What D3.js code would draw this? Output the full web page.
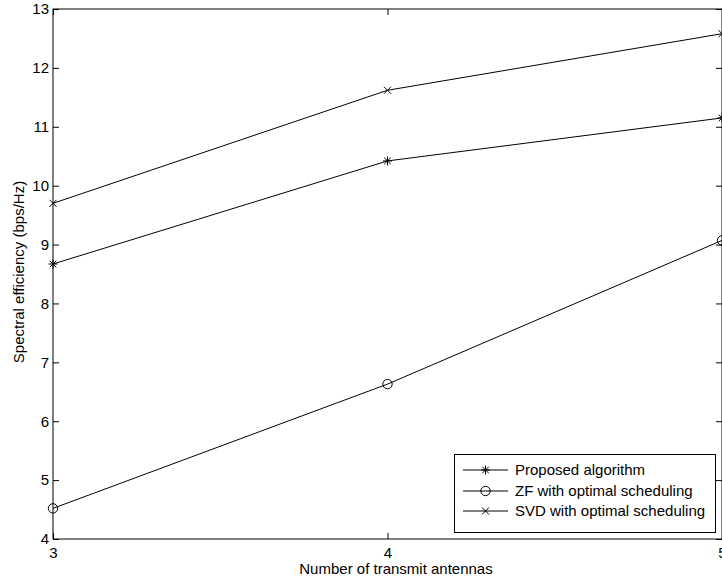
<!DOCTYPE html>
<html><head><meta charset="utf-8">
<script src="https://cdn.jsdelivr.net/npm/d3@7"></script>
<style>html,body{margin:0;padding:0;background:#fff;overflow:hidden}svg{display:block}text{font-family:Arial,"Liberation Sans",Helvetica,sans-serif;fill:#000}</style>
</head><body>
<script>
const antennas = [3, 4, 5];
const proposed = [8.67, 10.42, 11.15];
const zfOptimal = [4.52, 6.63, 9.07];
const svdOptimal = [9.70, 11.62, 12.58];
const seriesNames = ["Proposed algorithm", "ZF with optimal scheduling", "SVD with optimal scheduling"];
const yTicks = [4, 5, 6, 7, 8, 9, 10, 11, 12, 13];
const xTicks = [3, 4, 5];
const xLabel = "Number of transmit antennas";
const yLabel = "Spectral efficiency (bps/Hz)";

const W = 722, H = 581;
const L = 53, R = 722, T = 9, B = 539;
const svg = d3.select("body").append("svg").attr("width", W).attr("height", H);

const x = d3.scaleLinear().domain([3, 5]).range([L, R]);
const y = d3.scaleLinear().domain([4, 13]).range([B, T]);

// axes box
const tick = 6;
svg.append("g").attr("transform", `translate(${L},0)`)
  .call(d3.axisLeft(y).tickValues(yTicks).tickSize(-tick).tickPadding(4).tickFormat(d3.format("d")))
  .call(g => g.select(".domain").remove());
svg.append("g").attr("transform", `translate(${R},0)`)
  .call(d3.axisRight(y).tickValues(yTicks).tickSize(-tick).tickFormat(""))
  .call(g => g.select(".domain").remove());
svg.append("g").attr("transform", `translate(0,${B})`)
  .call(d3.axisBottom(x).tickValues(xTicks).tickSize(-tick).tickPadding(8).tickFormat(d3.format("d")))
  .call(g => g.select(".domain").remove());
svg.append("g").attr("transform", `translate(0,${T})`)
  .call(d3.axisTop(x).tickValues(xTicks).tickSize(-tick).tickFormat(""))
  .call(g => g.select(".domain").remove());
svg.selectAll(".tick line").attr("stroke", "#000");
svg.selectAll(".tick text").attr("font-size", 15);

svg.append("rect").attr("x", L).attr("y", T).attr("width", R - L).attr("height", B - T)
  .attr("fill", "none").attr("stroke", "#000").attr("stroke-width", 1);

// labels
svg.append("text").attr("x", 396).attr("y", 574).attr("text-anchor", "middle")
  .attr("font-size", 15).text(xLabel);
svg.append("text").attr("transform", `translate(24,272) rotate(-90)`).attr("text-anchor", "middle")
  .attr("font-size", 15).text(yLabel);

// markers
function marker(g, type, cx, cy) {
  if (type === "star") {
    const s = 4.5, d = 3.3;
    g.append("path").attr("d", `M${cx - s},${cy}H${cx + s}M${cx},${cy - s}V${cy + s}M${cx - d},${cy - d}L${cx + d},${cy + d}M${cx - d},${cy + d}L${cx + d},${cy - d}`)
      .attr("stroke", "#000").attr("stroke-width", 1).attr("fill", "none");
  } else if (type === "circle") {
    g.append("circle").attr("cx", cx).attr("cy", cy).attr("r", 4.7)
      .attr("stroke", "#000").attr("stroke-width", 1).attr("fill", "none");
  } else {
    const d = 3.5;
    g.append("path").attr("d", `M${cx - d},${cy - d}L${cx + d},${cy + d}M${cx - d},${cy + d}L${cx + d},${cy - d}`)
      .attr("stroke", "#000").attr("stroke-width", 1).attr("fill", "none");
  }
}

const series = [
  { name: seriesNames[0], vals: proposed, m: "star" },
  { name: seriesNames[1], vals: zfOptimal, m: "circle" },
  { name: seriesNames[2], vals: svdOptimal, m: "x" }
];
const line = d3.line().x((d, i) => x(antennas[i])).y(d => y(d));
series.forEach(s => {
  const g = svg.append("g");
  g.append("path").attr("d", line(s.vals)).attr("fill", "none").attr("stroke", "#000").attr("stroke-width", 1);
  s.vals.forEach((v, i) => marker(g, s.m, x(antennas[i]), y(v)));
});

// legend
const lg = svg.append("g");
lg.append("rect").attr("x", 454.5).attr("y", 454.5).attr("width", 261).attr("height", 78)
  .attr("fill", "#fff").attr("stroke", "#000").attr("stroke-width", 1);
const rowsY = [470, 491, 511];
series.forEach((s, i) => {
  const yy = rowsY[i];
  lg.append("line").attr("x1", 463).attr("x2", 508).attr("y1", yy).attr("y2", yy).attr("stroke", "#000");
  marker(lg, s.m, 485.5, yy);
  lg.append("text").attr("x", 515).attr("y", yy).attr("dy", "0.35em").attr("font-size", 15).text(s.name);
});
</script>
</body></html>
